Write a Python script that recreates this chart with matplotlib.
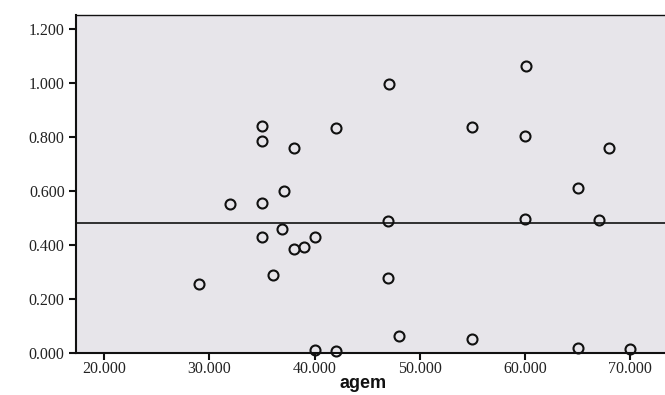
import matplotlib
matplotlib.use("Agg")
import matplotlib.pyplot as plt
from matplotlib.ticker import FormatStrFormatter

# Data
agem = [35.0, 35.0, 38.0, 37.1, 42.0, 47.1, 60.1, 55.0, 60.0, 68.0,
        65.0, 32.0, 35.0, 36.9, 35.0, 38.0, 39.0, 40.0, 36.0, 29.0,
        40.0, 42.0, 47.0, 60.0, 67.0, 47.0, 48.0, 55.0, 65.0, 70.0]
value = [0.840, 0.784, 0.758, 0.600, 0.834, 0.994, 1.060, 0.836, 0.803, 0.760,
         0.610, 0.552, 0.554, 0.459, 0.428, 0.385, 0.393, 0.428, 0.287, 0.256,
         0.010, 0.008, 0.489, 0.495, 0.493, 0.277, 0.065, 0.052, 0.020, 0.015]
mean_line = 0.48
x_ticks = [20, 30, 40, 50, 60, 70]
y_ticks = [0.0, 0.2, 0.4, 0.6, 0.8, 1.0, 1.2]

fig = plt.figure(figsize=(6.65, 3.95), dpi=100)
ax = fig.add_axes([0.114, 0.106, 0.886, 0.856])
ax.set_facecolor("#e7e5ea")

ax.axhline(mean_line, color="#111111", linewidth=1.2, zorder=2)
ax.plot(agem, value, linestyle="none", marker="o", markersize=7.2,
        markerfacecolor="none", markeredgecolor="#111111",
        markeredgewidth=1.5, clip_on=False, zorder=3)

ax.set_xlim(17.3, 73.3)
ax.set_ylim(0.0, 1.25)
ax.set_xticks(x_ticks)
ax.set_yticks(y_ticks)
ax.xaxis.set_major_formatter(FormatStrFormatter("%.3f"))
ax.yaxis.set_major_formatter(FormatStrFormatter("%.3f"))

for lab in ax.get_xticklabels() + ax.get_yticklabels():
    lab.set_family("Liberation Serif")
    lab.set_fontsize(11.5)
    lab.set_color("#222222")

ax.tick_params(axis="both", direction="out", length=5, width=1.5,
               color="#111111")
ax.tick_params(axis="x", pad=1)
ax.tick_params(axis="y", pad=3)
ax.spines["right"].set_visible(False)
for s in ["left", "bottom", "top"]:
    ax.spines[s].set_color("#111111")
ax.spines["left"].set_linewidth(1.5)
ax.spines["bottom"].set_linewidth(1.5)
ax.spines["top"].set_linewidth(1.0)

ax.set_xlabel("agem", family="Liberation Sans", fontweight="bold",
              fontsize=13, color="#111111")
ax.xaxis.set_label_coords(0.487, -0.064)

fig.savefig("out.png", dpi=100, facecolor="white")
